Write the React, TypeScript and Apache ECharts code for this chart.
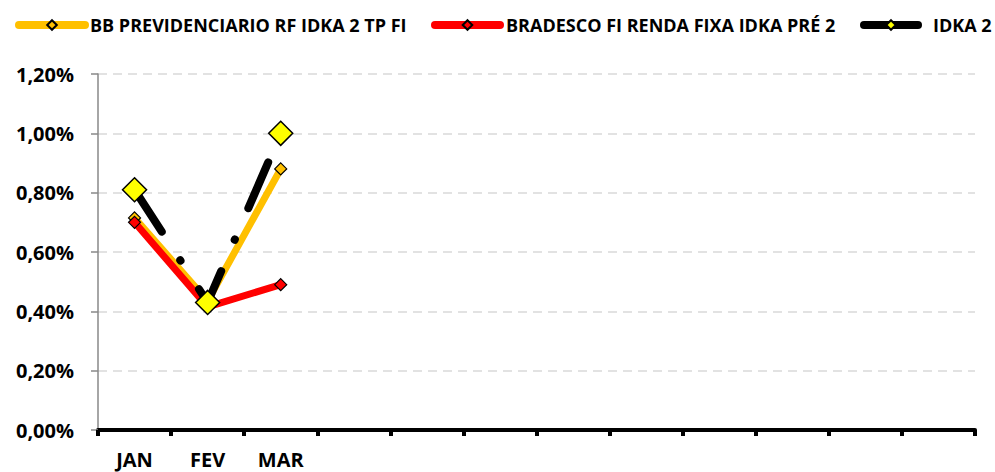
import React, { useEffect, useRef } from "react";
import * as echarts from "echarts";

const categories = ["JAN", "FEV", "MAR", "", "", "", "", "", "", "", "", ""];
const bbValues = [0.715, 0.435, 0.88];
const bradescoValues = [0.70, 0.415, 0.49];
const idkaValues = [0.81, 0.43, 1.0];
const seriesNames = [
  "BB PREVIDENCIARIO RF IDKA 2 TP FI",
  "BRADESCO FI RENDA FIXA IDKA PRÉ 2",
  "IDKA 2",
];
const yTicks = { min: 0, max: 1.2, interval: 0.2 };

const FONT = "'Open Sans', 'Noto Sans', sans-serif";

export default function App() {
  const ref = useRef<HTMLDivElement>(null);
  useEffect(() => {
    if (!ref.current) return;
    const chart = echarts.init(ref.current, undefined, { renderer: "svg" });
    const legendText = (gap: number) => ({
      fontFamily: FONT, fontWeight: "bold" as const, fontSize: 18, color: "#000", padding: [0, 0, 0, gap],
    });
    chart.setOption({
      animation: false,
      backgroundColor: "#fff",
      grid: { left: 98, right: 20, top: 74, bottom: 42, containLabel: false },
      legend: [
        {
          data: [seriesNames[0]], left: 15, top: 16, itemWidth: 66, itemHeight: 12, itemGap: 0, padding: 0,
          textStyle: legendText(0), lineStyle: { width: 8, cap: "round" }, selectedMode: false,
        },
        {
          data: [seriesNames[1]], left: 431, top: 16, itemWidth: 65, itemHeight: 12, itemGap: 0, padding: 0,
          textStyle: legendText(1), lineStyle: { width: 8, cap: "round" }, selectedMode: false,
        },
        {
          data: [seriesNames[2]], left: 860, top: 16, itemWidth: 54, itemHeight: 12, itemGap: 0, padding: 0,
          textStyle: legendText(10), lineStyle: { width: 8, cap: "round", type: "solid" }, selectedMode: false,
        },
      ],
      xAxis: {
        type: "category",
        data: categories,
        boundaryGap: true,
        axisLine: { show: true, lineStyle: { color: "#000", width: 4 } },
        axisTick: { show: true, interval: 0, alignWithLabel: false, length: 6, lineStyle: { color: "#000", width: 4 } },
        axisLabel: { interval: 0, margin: 19, fontFamily: FONT, fontWeight: "bold", fontSize: 20, color: "#000" },
        splitLine: { show: false },
      },
      yAxis: {
        type: "value",
        min: yTicks.min,
        max: yTicks.max,
        interval: yTicks.interval,
        axisLine: { show: true, lineStyle: { color: "#898989", width: 1.5 } },
        axisTick: { show: true, length: 7, lineStyle: { color: "#898989", width: 1.5 } },
        axisLabel: {
          margin: 24, fontFamily: FONT, fontWeight: "bold", fontSize: 20, color: "#000",
          formatter: (v: number) => v.toFixed(2).replace(".", ",") + "%",
        },
        splitLine: { show: true, lineStyle: { color: "#d9d9d9", width: 1.5, type: [9, 6] } },
      },
      series: [
        {
          name: seriesNames[0], type: "line", data: bbValues, z: 2,
          symbol: "diamond", symbolSize: 12, showAllSymbol: true,
          lineStyle: { color: "#FFC000", width: 7, cap: "round", join: "round" },
          itemStyle: { color: "#FFC000", borderColor: "#000", borderWidth: 1.2 },
        },
        {
          name: seriesNames[1], type: "line", data: bradescoValues, z: 3,
          symbol: "diamond", symbolSize: 12, showAllSymbol: true,
          lineStyle: { color: "#FF0000", width: 7, cap: "round", join: "round" },
          itemStyle: { color: "#FF0000", borderColor: "#000", borderWidth: 1.2 },
        },
        {
          name: seriesNames[2], type: "line", data: idkaValues, z: 4,
          symbol: "diamond", symbolSize: 24, showAllSymbol: true,
          lineStyle: { color: "#000", width: 8, cap: "round", join: "round", type: [50, 34, 0.5, 34] },
          itemStyle: { color: "#FFFF00", borderColor: "#000", borderWidth: 1.5 },
        },
      ],
    });
    return () => chart.dispose();
  }, []);
  return (
    <div
      ref={ref}
      style={{ position: "fixed", left: 0, top: 0, width: 995, height: 472 }}
    />
  );
}
